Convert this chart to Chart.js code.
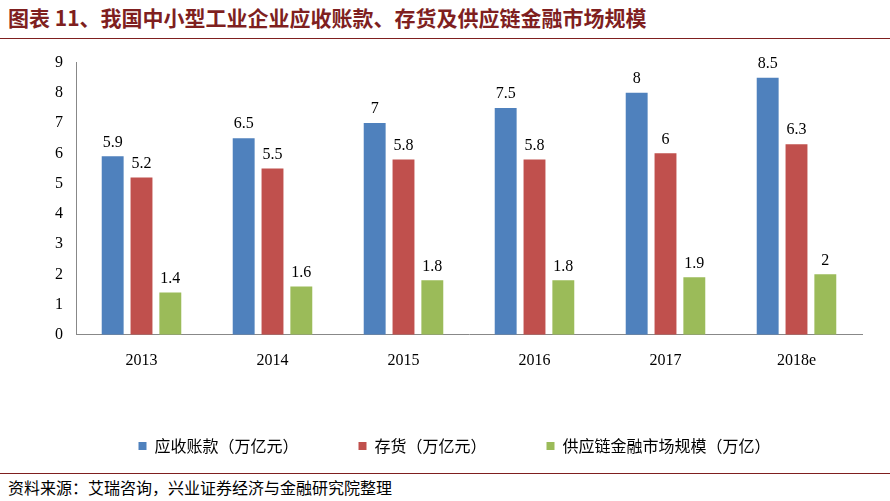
<!DOCTYPE html>
<html><head><meta charset="utf-8">
<script src="https://cdn.jsdelivr.net/npm/chart.js@4"></script>
<style>
body{margin:0;width:890px;height:501px;background:#fff;position:relative;overflow:hidden;font-family:"Noto Sans CJK SC",serif}
#title{position:absolute;left:8px;top:2px;font-size:21px;font-weight:bold;color:#7f1f1f;font-family:"Noto Sans CJK SC"}
#tl{position:absolute;left:0;top:38px;width:890px;border-top:1.5px solid #7f1f1f}
#bl{position:absolute;left:0;top:473px;width:890px;border-top:1px solid #7f1f1f}
#src{position:absolute;left:8px;top:475px;font-size:16px;color:#000}
#wrap{position:absolute;left:0;top:45px;width:890px;height:425px}
</style></head><body>
<div id="title">图表 11、我国中小型工业企业应收账款、存货及供应链金融市场规模</div>
<div id="tl"></div>
<div id="wrap"><canvas id="c"></canvas></div>
<div id="bl"></div>
<div id="src">资料来源：艾瑞咨询，兴业证券经济与金融研究院整理</div>
<script>
const years = ['2013', '2014', '2015', '2016', '2017', '2018e'];
const receivables = [5.9, 6.5, 7, 7.5, 8, 8.5];
const inventory = [5.2, 5.5, 5.8, 5.8, 6, 6.3];
const scf = [1.4, 1.6, 1.8, 1.8, 1.9, 2];

const labelPlugin = {
  id: 'labels',
  afterDatasetsDraw(chart) {
    const ctx = chart.ctx;
    ctx.save();
    ctx.font = '16px "Liberation Serif"';
    ctx.fillStyle = '#000';
    ctx.textAlign = 'center';
    ctx.textBaseline = 'bottom';
    chart.data.datasets.forEach((ds, i) => {
      chart.getDatasetMeta(i).data.forEach((bar, j) => {
        ctx.fillText(String(ds.data[j]), bar.x, bar.y - 6);
      });
    });
    ctx.restore();
  }
};

new Chart(document.getElementById('c'), {
  type: 'bar',
  data: {
    labels: years,
    datasets: [
      {label: '应收账款（万亿元）', data: receivables, backgroundColor: '#4f81bd'},
      {label: '存货（万亿元）', data: inventory, backgroundColor: '#c0504d'},
      {label: '供应链金融市场规模（万亿）', data: scf, backgroundColor: '#9bbb59'}
    ]
  },
  options: {
    responsive: true, maintainAspectRatio: false, animation: false,
    layout: {padding: {left: 47, right: 28, top: 13, bottom: 6}},
    datasets: {bar: {categoryPercentage: 0.66, barPercentage: 0.76}},
    scales: {
      y: {min: 0, max: 9, ticks: {stepSize: 1, color: '#000', font: {family: 'Liberation Serif', size: 16}, padding: 8},
          grid: {display: false, drawTicks: true, tickLength: 5}, border: {color: '#888'}},
      x: {ticks: {color: '#000', font: {family: 'Liberation Serif', size: 16}, padding: 8},
          grid: {display: false}, border: {color: '#888'}}
    },
    plugins: {
      legend: {position: 'bottom', labels: {boxWidth: 8, boxHeight: 8, padding: 60, color: '#000',
               font: {family: 'Noto Sans CJK SC', size: 16}}},
      tooltip: {enabled: false}
    }
  },
  plugins: [labelPlugin]
});
</script>
</body></html>
